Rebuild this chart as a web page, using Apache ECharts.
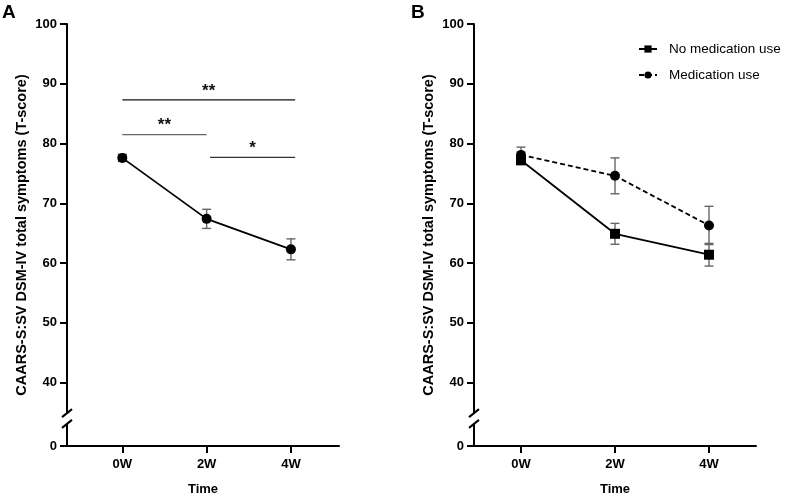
<!DOCTYPE html>
<html>
<head>
<meta charset="utf-8">
<script src="https://cdn.jsdelivr.net/npm/echarts@6.0.0/dist/echarts.min.js"></script>
<style>
html,body{margin:0;padding:0;background:#fff;}
#chart{width:790px;height:499px;}
</style>
</head>
<body>
<div id="chart"></div>
<script>
// ---- data ----
const categories = ['0W', '2W', '4W'];
const xPositions = [0, 1, 2];
const yTickValues = [40, 50, 60, 70, 80, 90, 100];
const yBreakValue = 29.4; // shown as "0" below the axis break

const panelAMean = [77.6, 67.4, 62.3];
const panelAErr  = [0.6, 1.6, 1.75];

const noMedMean = [77.2, 64.9, 61.4];
const noMedErr  = [0.7, 1.75, 1.9];
const medMean   = [78.1, 74.6, 66.3];
const medErr    = [1.3, 3.0, 3.2];

const sigFrom  = [0, 0, 1.04];
const sigTo    = [2.05, 1, 2.05];
const sigLevel = [87.3, 81.5, 77.7];
const sigText  = ['**', '**', '*'];
const sigColor = ['#111', '#666', '#333'];

const seriesNames = ['No medication use', 'Medication use'];
const yName = 'CAARS-S:SV DSM-IV total symptoms (T-score)';
const xName = 'Time';

// ---- helpers ----
const FONT = 'Liberation Sans, Arial, sans-serif';
const pts = (xs, ys) => xs.map((x, i) => [x, ys[i]]);
const errData = (xs, m, e) => xs.map((x, i) => [x, m[i] - e[i], m[i] + e[i]]);

function errorRender(params, api) {
  const x = api.value(0), lo = api.value(1), hi = api.value(2);
  const pl = api.coord([x, lo]), ph = api.coord([x, hi]);
  const w = 4.5;
  const st = { stroke: '#666', lineWidth: 1.4 };
  return { type: 'group', children: [
    { type: 'line', shape: { x1: ph[0], y1: ph[1], x2: pl[0], y2: pl[1] }, style: st },
    { type: 'line', shape: { x1: ph[0] - w, y1: ph[1], x2: ph[0] + w, y2: ph[1] }, style: st },
    { type: 'line', shape: { x1: pl[0] - w, y1: pl[1], x2: pl[0] + w, y2: pl[1] }, style: st }
  ]};
}

function bracketRender(params, api) {
  const i = params.dataIndex;
  const p1 = api.coord([sigFrom[i], sigLevel[i]]);
  const p2 = api.coord([sigTo[i], sigLevel[i]]);
  return { type: 'group', children: [
    { type: 'line', shape: { x1: p1[0], y1: p1[1], x2: p2[0], y2: p2[1] },
      style: { stroke: sigColor[i], lineWidth: 1.2 } },
    { type: 'text', style: { text: sigText[i], x: (p1[0] + p2[0]) / 2, y: p1[1] - 9,
      textAlign: 'center', textVerticalAlign: 'middle', fill: '#111',
      font: 'bold 17px ' + FONT } }
  ]};
}

function xAxisCfg(idx, min, max) {
  return {
    type: 'value', gridIndex: idx, min: min, max: max,
    name: xName, nameLocation: 'middle', nameGap: 37,
    nameTextStyle: { fontFamily: FONT, fontWeight: 'bold', fontSize: 13, color: '#000' },
    axisLine: { onZero: false, lineStyle: { color: '#000', width: 2 } },
    axisTick: { show: true, customValues: xPositions, length: 7, inside: false, lineStyle: { color: '#000', width: 2 } },
    axisLabel: { customValues: xPositions, margin: 12, fontFamily: FONT, fontWeight: 'bold', fontSize: 13, color: '#000',
      formatter: v => categories[xPositions.indexOf(v)] },
    splitLine: { show: false }
  };
}
function yAxisCfg(idx) {
  const vals = [yBreakValue].concat(yTickValues);
  return {
    type: 'value', gridIndex: idx, min: yBreakValue, max: 100,
    name: yName, nameLocation: 'middle', nameGap: 38,
    nameTextStyle: { fontFamily: FONT, fontWeight: 'bold', fontSize: 14.5, color: '#000' },
    axisLine: { show: true, onZero: false, lineStyle: { color: '#000', width: 2 } },
    axisTick: { show: true, customValues: vals, length: 7, lineStyle: { color: '#000', width: 2 } },
    axisLabel: { customValues: vals, margin: 10, fontFamily: FONT, fontWeight: 'bold', fontSize: 13, color: '#000',
      formatter: v => (v < 35 ? '0' : String(v)) },
    splitLine: { show: false }
  };
}

const chart = echarts.init(document.getElementById('chart'), null, { renderer: 'canvas' });
const option = {
  backgroundColor: '#fff',
  animation: false,
  title: [
    { text: 'A', left: 2, top: 3, padding: 0, textStyle: { fontFamily: FONT, fontWeight: 'bold', fontSize: 19, color: '#000' } },
    { text: 'B', left: 411, top: 3, padding: 0, textStyle: { fontFamily: FONT, fontWeight: 'bold', fontSize: 19, color: '#000' } }
  ],
  legend: {
    data: seriesNames, orient: 'vertical', left: 638, top: 42, padding: 0,
    itemWidth: 18, itemHeight: 9, itemGap: 12,
    textStyle: { fontFamily: FONT, fontSize: 13.5, color: '#000', lineHeight: 13, padding: [0, 0, 0, 7] }
  },
  grid: [
    { left: 67, right: 451, top: 24, bottom: 53, outerBoundsMode: 'none', containLabel: false },
    { left: 474, right: 34, top: 24, bottom: 53, outerBoundsMode: 'none', containLabel: false }
  ],
  xAxis: [xAxisCfg(0, -0.656, 2.57), xAxisCfg(1, -0.5, 2.5)],
  yAxis: [yAxisCfg(0), yAxisCfg(1)],
  series: [
    { type: 'custom', name: 'errA', xAxisIndex: 0, yAxisIndex: 0, renderItem: errorRender,
      data: errData(xPositions, panelAMean, panelAErr), z: 1, silent: true },
    { type: 'line', name: 'A', xAxisIndex: 0, yAxisIndex: 0, data: pts(xPositions, panelAMean),
      symbol: 'circle', symbolSize: 10, itemStyle: { color: '#000' },
      lineStyle: { color: '#000', width: 1.8 }, z: 3 },
    { type: 'custom', name: 'sig', xAxisIndex: 0, yAxisIndex: 0, renderItem: bracketRender,
      data: sigLevel.map((v, i) => [sigFrom[i], v]), z: 2, silent: true },
    { type: 'custom', name: 'errNo', xAxisIndex: 1, yAxisIndex: 1, renderItem: errorRender,
      data: errData(xPositions, noMedMean, noMedErr), z: 1, silent: true },
    { type: 'custom', name: 'errMed', xAxisIndex: 1, yAxisIndex: 1, renderItem: errorRender,
      data: errData(xPositions, medMean, medErr), z: 1, silent: true },
    { type: 'line', name: seriesNames[0], xAxisIndex: 1, yAxisIndex: 1, data: pts(xPositions, noMedMean),
      symbol: 'rect', symbolSize: 10, itemStyle: { color: '#000' },
      lineStyle: { color: '#000', width: 1.8, type: 'solid' }, z: 3 },
    { type: 'line', name: seriesNames[1], xAxisIndex: 1, yAxisIndex: 1, data: pts(xPositions, medMean),
      symbol: 'circle', symbolSize: 10, itemStyle: { color: '#000' },
      lineStyle: { color: '#000', width: 1.8, type: [5, 3] }, z: 3 }
  ]
};
chart.setOption(option);

// axis-break marks on both y axes
function breakMarks() {
  const els = [];
  [0, 1].forEach(idx => {
    const gx = option.grid[idx].left;
    const yA = chart.convertToPixel({ yAxisIndex: idx }, 34.9);
    const yB = chart.convertToPixel({ yAxisIndex: idx }, 33.1);
    els.push({ type: 'rect', shape: { x: gx - 3, y: yA, width: 6, height: yB - yA }, style: { fill: '#fff' }, z: 100 });
    [yA, yB].forEach(y => {
      els.push({ type: 'line', shape: { x1: gx - 5, y1: y + 4, x2: gx + 5, y2: y - 4 },
        style: { stroke: '#000', lineWidth: 2 }, z: 101 });
    });
  });
  chart.setOption({ graphic: els });
}
breakMarks();
</script>
</body>
</html>
